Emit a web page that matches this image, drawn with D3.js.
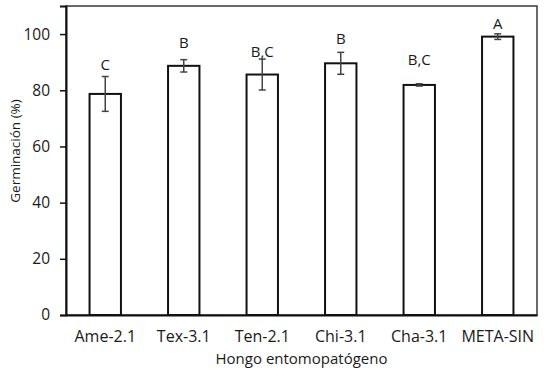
<!DOCTYPE html>
<html>
<head>
<meta charset="utf-8">
<script src="https://cdn.jsdelivr.net/npm/d3@7"></script>
<style>
  body { margin: 0; background: white; }
  text { font-family: "Open Sans", sans-serif; fill: #1a1a1a; }
</style>
</head>
<body>
<div id="chart"></div>
<script>
const categories = ["Ame-2.1", "Tex-3.1", "Ten-2.1", "Chi-3.1", "Cha-3.1", "META-SIN"];
const germination = [78.7, 88.7, 85.6, 89.6, 81.9, 99.1];
const errors = [6.2, 2.2, 5.5, 3.9, 0.4, 1.0];
const groups = ["C", "B", "B,C", "B", "B,C", "A"];
const groupLevel = [87.3, 95.0, 91.8, 96.3, 88.9, 101.9];
const yTicks = [0, 20, 40, 60, 80, 100];

const W = 544, H = 373;
const margin = {top: 6, right: 7, bottom: 58, left: 66};

const svg = d3.select("#chart").append("svg")
    .attr("width", W)
    .attr("height", H);

const x = d3.scaleBand()
    .domain(categories)
    .range([margin.left, W - margin.right])
    .paddingInner(0.6)
    .paddingOuter(0.3);

const y = d3.scaleLinear()
    .domain([0, 110])
    .range([H - margin.bottom, margin.top]);

// plot frame
svg.append("rect")
    .attr("x", margin.left)
    .attr("y", margin.top)
    .attr("width", W - margin.left - margin.right)
    .attr("height", H - margin.top - margin.bottom)
    .attr("fill", "none")
    .attr("stroke", "#3a3a3a")
    .attr("stroke-width", 1.5);

// y axis
const yAxis = svg.append("g")
    .attr("transform", `translate(${margin.left},0)`)
    .call(d3.axisLeft(y).tickValues(yTicks).tickSize(6).tickPadding(10));
yAxis.select(".domain").attr("stroke", "#111").attr("stroke-width", 2);
yAxis.selectAll(".tick line").attr("stroke", "#111").attr("stroke-width", 1.5);
yAxis.selectAll("text").style("font-size", "15.5px").attr("fill", "#1a1a1a");

// x axis
const xAxis = svg.append("g")
    .attr("transform", `translate(0,${H - margin.bottom})`)
    .call(d3.axisBottom(x).tickSize(0).tickPadding(16));
xAxis.select(".domain").attr("stroke", "#111").attr("stroke-width", 2);
xAxis.selectAll("text").style("font-size", "16px").attr("fill", "#1a1a1a");

// bars
svg.selectAll(".bar")
    .data(categories)
    .join("rect")
    .attr("class", "bar")
    .attr("x", d => x(d))
    .attr("y", (d, i) => y(germination[i]))
    .attr("width", x.bandwidth())
    .attr("height", (d, i) => y(0) - y(germination[i]))
    .attr("fill", "white")
    .attr("stroke", "#111")
    .attr("stroke-width", 2);

// error bars
const cap = 3.5;
const err = svg.selectAll(".err")
    .data(categories)
    .join("g")
    .attr("class", "err")
    .attr("stroke", "#444")
    .attr("stroke-width", 1.5);
err.append("line")
    .attr("x1", d => x(d) + x.bandwidth() / 2)
    .attr("x2", d => x(d) + x.bandwidth() / 2)
    .attr("y1", (d, i) => y(germination[i] + errors[i]))
    .attr("y2", (d, i) => y(germination[i] - errors[i]));
err.append("line")
    .attr("x1", d => x(d) + x.bandwidth() / 2 - cap)
    .attr("x2", d => x(d) + x.bandwidth() / 2 + cap)
    .attr("y1", (d, i) => y(germination[i] + errors[i]))
    .attr("y2", (d, i) => y(germination[i] + errors[i]));
err.append("line")
    .attr("x1", d => x(d) + x.bandwidth() / 2 - cap)
    .attr("x2", d => x(d) + x.bandwidth() / 2 + cap)
    .attr("y1", (d, i) => y(germination[i] - errors[i]))
    .attr("y2", (d, i) => y(germination[i] - errors[i]));

// group letters
svg.selectAll(".grp")
    .data(categories)
    .join("text")
    .attr("class", "grp")
    .attr("x", d => x(d) + x.bandwidth() / 2)
    .attr("y", (d, i) => y(groupLevel[i]))
    .attr("text-anchor", "middle")
    .style("font-size", "15px")
    .text((d, i) => groups[i]);

// axis titles
svg.append("text")
    .attr("x", (margin.left + W - margin.right) / 2)
    .attr("y", 364)
    .attr("text-anchor", "middle")
    .style("font-size", "15px")
    .text("Hongo entomopatógeno");

svg.append("text")
    .attr("transform", "translate(20,151) rotate(-90)")
    .attr("text-anchor", "middle")
    .style("font-size", "13.5px")
    .text("Germinación (%)");
</script>
</body>
</html>
